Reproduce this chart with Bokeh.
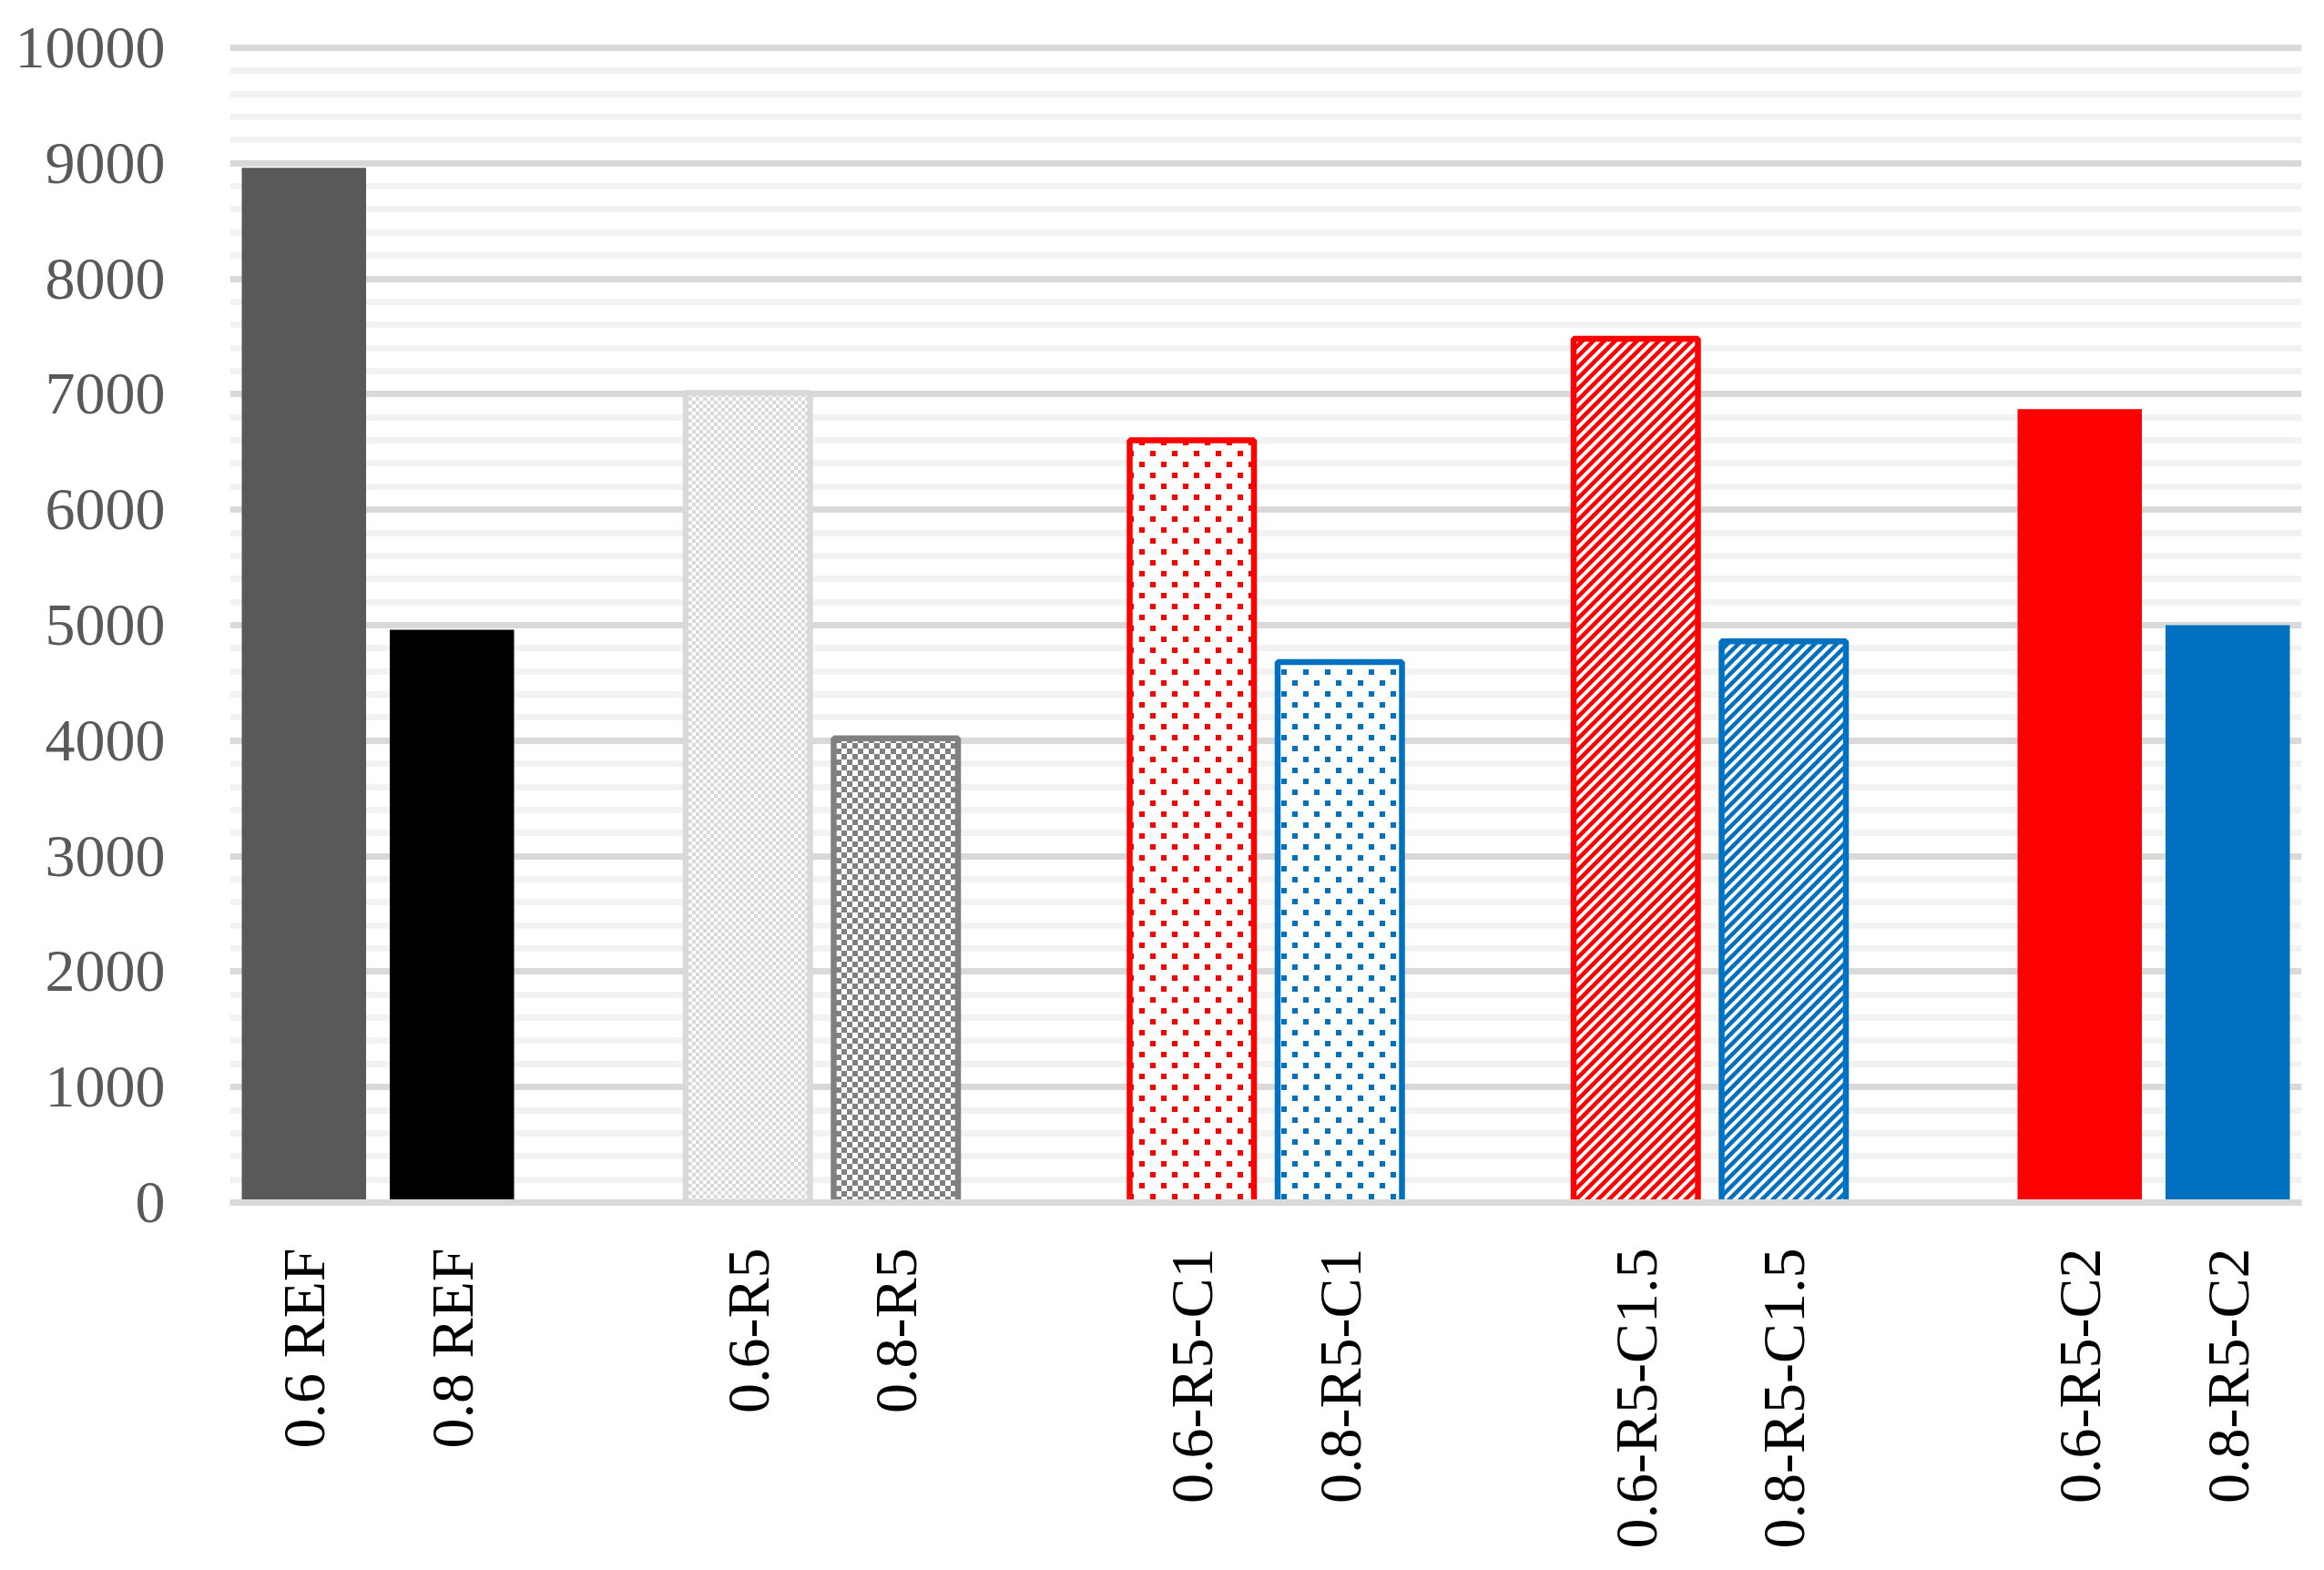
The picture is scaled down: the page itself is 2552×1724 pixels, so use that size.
import math
from bokeh.plotting import figure
from bokeh.models import (ColumnDataSource, FactorRange, Range1d, SingleIntervalTicker,
                          CanvasTexture)
from bokeh.embed import file_html
from bokeh.resources import INLINE

# ---- data ----
categories = ["0.6 REF", "0.8 REF", " ",
              "0.6-R5", "0.8-R5", "  ",
              "0.6-R5-C1", "0.8-R5-C1", "   ",
              "0.6-R5-C1.5", "0.8-R5-C1.5", "    ",
              "0.6-R5-C2", "0.8-R5-C2"]
bar_labels = ["0.6 REF", "0.8 REF", "0.6-R5", "0.8-R5", "0.6-R5-C1", "0.8-R5-C1",
              "0.6-R5-C1.5", "0.8-R5-C1.5", "0.6-R5-C2", "0.8-R5-C2"]
values = [8960, 4960, 7010, 4020, 6600, 4680, 7480, 4860, 6870, 5000]

# ---- styles ----
fill_colors = ["#595959", "#000000", "#ffffff", "#ffffff", "#ffffff", "#ffffff",
               "#ffffff", "#ffffff", "#ff0000", "#0070c0"]
line_colors = ["#595959", "#000000", "#d9d9d9", "#808080", "#ff0000", "#0070c0",
               "#ff0000", "#0070c0", "#ff0000", "#0070c0"]
line_alphas = [0, 0, 1, 1, 1, 1, 1, 1, 0, 0]
hatch_patterns = [" ", " ", "chk_light", "chk_dark", "dots_red", "dots_blue",
                  "diag_red", "diag_blue", " ", " "]


def tile_code(size, body):
    return ("const c = ctx.canvas; c.width = %d; c.height = %d;\n"
            "ctx.setTransform(1, 0, 0, 1, 0, 0);\n" % (size, size)) + body


def diag(color):
    return tile_code(12, """
ctx.strokeStyle = "%s"; ctx.lineWidth = 4.5;
ctx.beginPath();
ctx.moveTo(-6, 18); ctx.lineTo(18, -6);
ctx.moveTo(-12, 12); ctx.lineTo(12, -12);
ctx.moveTo(0, 24); ctx.lineTo(24, 0);
ctx.stroke();
""" % color)


def dots(color):
    return tile_code(24, """
ctx.fillStyle = "%s";
ctx.fillRect(3, 3, 6, 6); ctx.fillRect(15, 15, 6, 6);
""" % color)


textures = {
    "chk_light": CanvasTexture(code=tile_code(8, """
ctx.fillStyle = "#d9d9d9";
ctx.fillRect(0, 0, 4, 4); ctx.fillRect(4, 4, 4, 4);
""")),
    "chk_dark": CanvasTexture(code=tile_code(12, """
ctx.fillStyle = "#808080";
ctx.fillRect(0, 0, 6, 6); ctx.fillRect(6, 6, 6, 6);
""")),
    "dots_red": CanvasTexture(code=dots("#ff0000")),
    "dots_blue": CanvasTexture(code=dots("#0070c0")),
    "diag_red": CanvasTexture(code=diag("#ff0000")),
    "diag_blue": CanvasTexture(code=diag("#0070c0")),
}

source = ColumnDataSource(dict(x=bar_labels, top=values, fill=fill_colors, line=line_colors,
                               la=line_alphas, hp=hatch_patterns))

W, H = 2536, 1708
p = figure(width=W, height=H, output_backend="svg", toolbar_location=None,
           x_range=FactorRange(factors=categories, range_padding=0),
           y_range=Range1d(0, 10110))
p.min_border_left = 252
p.min_border_right = 9
p.min_border_top = 38
p.min_border_bottom = 388
p.outline_line_color = None
p.background_fill_color = "white"
p.border_fill_color = "white"

p.vbar(x="x", top="top", bottom=0, width=0.84, source=source,
       fill_color="fill", line_color="line", line_alpha="la", line_width=6.5,
       hatch_pattern="hp", hatch_color="line", hatch_scale=12, hatch_weight=4,
       hatch_extra=textures)

font = "Liberation Serif"
p.yaxis.ticker = SingleIntervalTicker(interval=1000, num_minor_ticks=5)
p.yaxis.axis_line_color = None
p.yaxis.major_tick_line_color = None
p.yaxis.minor_tick_line_color = None
p.yaxis.major_tick_out = 0
p.yaxis.minor_tick_out = 0
p.yaxis.major_label_standoff = 71
p.yaxis.major_label_text_font = font
p.yaxis.major_label_text_font_size = "66px"
p.yaxis.major_label_text_color = "#595959"

p.xaxis.axis_line_color = "#d9d9d9"
p.xaxis.axis_line_width = 7
p.xaxis.major_tick_line_color = None
p.xaxis.minor_tick_line_color = None
p.xaxis.major_tick_out = 0
p.xaxis.major_label_orientation = math.pi / 2
p.xaxis.major_label_standoff = 50
p.xaxis.major_label_text_font = font
p.xaxis.major_label_text_font_size = "66px"
p.xaxis.major_label_text_color = "#000000"

p.xgrid.grid_line_color = None
p.ygrid.grid_line_color = "#d9d9d9"
p.ygrid.grid_line_width = 7
p.ygrid.minor_grid_line_color = "#f2f2f2"
p.ygrid.minor_grid_line_width = 7
p.ygrid.level = "image"

open("out.html", "w").write(file_html(p, INLINE))
